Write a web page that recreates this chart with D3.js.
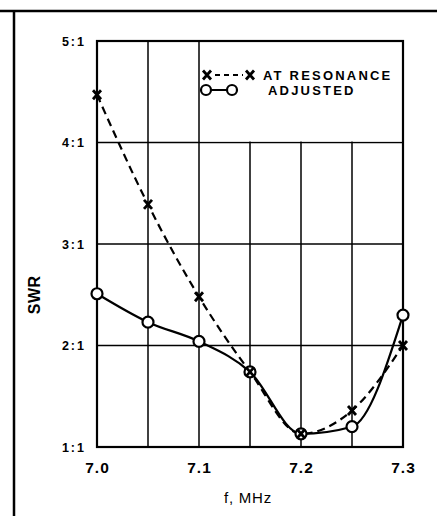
<!DOCTYPE html>
<html>
<head>
<meta charset="utf-8">
<script src="https://cdn.jsdelivr.net/npm/d3@7"></script>
<style>
  body { margin: 0; background: #fff; }
  svg { display: block; font-family: "Liberation Sans", Arial, sans-serif; }
  .tick text { font-weight: bold; fill: #000; }
</style>
</head>
<body>
<div class="chart"></div>
<script>
// data
const freq = [7.0, 7.05, 7.1, 7.15, 7.2, 7.25, 7.3];
const resonance = [4.47, 3.39, 2.48, 1.74, 1.13, 1.36, 2.0];
const adjusted = [2.51, 2.23, 2.04, 1.74, 1.13, 1.2, 2.3];
const yTicks = [1, 2, 3, 4, 5];
const yTickLabels = ["1:1", "2:1", "3:1", "4:1", "5:1"];
const xTicks = [7.0, 7.1, 7.2, 7.3];
const xGrid = [7.05, 7.1, 7.15, 7.2, 7.25];
const legendNames = ["AT RESONANCE", "ADJUSTED"];

const svgWidth = 437, svgHeight = 516;
const margin = { top: 41, right: 34, bottom: 69, left: 97 };
const width = svgWidth - margin.left - margin.right;
const height = svgHeight - margin.top - margin.bottom;

const svg = d3.select(".chart").append("svg")
  .attr("width", svgWidth)
  .attr("height", svgHeight);

// page frame (top rule and left rule)
svg.append("line").attr("x1", 0).attr("x2", svgWidth).attr("y1", 11).attr("y2", 11)
  .attr("stroke", "#000").attr("stroke-width", 2.5);
svg.append("line").attr("x1", 14).attr("x2", 14).attr("y1", 11).attr("y2", svgHeight)
  .attr("stroke", "#000").attr("stroke-width", 2.5);

const g = svg.append("g").attr("transform", `translate(${margin.left},${margin.top})`);

const x = d3.scaleLinear().domain([7.0, 7.3]).range([0, width]);
const y = d3.scaleLinear().domain([1, 5]).range([height, 0]);

// grid
g.append("g").selectAll("line").data(xGrid).join("line")
  .attr("x1", d => x(d)).attr("x2", d => x(d))
  .attr("y1", 0).attr("y2", height)
  .attr("stroke", "#000").attr("stroke-width", 1.5);
g.append("g").selectAll("line").data([2, 3, 4]).join("line")
  .attr("x1", 0).attr("x2", width)
  .attr("y1", d => y(d)).attr("y2", d => y(d))
  .attr("stroke", "#000").attr("stroke-width", 1.6);

// legend cell blanks out the grid
g.append("rect")
  .attr("x", x(7.1) + 1).attr("y", y(5) + 1)
  .attr("width", x(7.3) - x(7.1) - 2).attr("height", y(4) - y(5) - 2)
  .attr("fill", "#fff");

g.append("rect").attr("width", width).attr("height", height)
  .attr("fill", "none").attr("stroke", "#000").attr("stroke-width", 2.2);

// axes (labels only)
const yAxis = g.append("g")
  .call(d3.axisLeft(y).tickValues(yTicks).tickSize(0).tickPadding(11)
    .tickFormat((d, i) => yTickLabels[i]));
yAxis.select(".domain").remove();
yAxis.selectAll("text").attr("font-size", 12.5).attr("letter-spacing", 2);

const xAxis = g.append("g").attr("transform", `translate(0,${height})`)
  .call(d3.axisBottom(x).tickValues(xTicks).tickSize(0).tickPadding(15)
    .tickFormat(d3.format(".1f")));
xAxis.select(".domain").remove();
xAxis.selectAll("text").attr("font-size", 15.5).attr("letter-spacing", 1);

g.append("text")
  .attr("transform", `translate(${-57},${y(2.5)}) rotate(-90)`)
  .attr("text-anchor", "middle")
  .attr("font-size", 16).attr("font-weight", "bold").attr("letter-spacing", 0.5)
  .text("SWR");

g.append("text")
  .attr("x", x(7.15) - 2).attr("y", height + 56)
  .attr("text-anchor", "middle")
  .attr("font-size", 15).attr("letter-spacing", 0.8)
  .text("f, MHz");

// lines
const lineGen = d3.line()
  .x(d => x(d[0])).y(d => y(d[1]))
  .curve(d3.curveMonotoneX);

const resPts = freq.map((f, i) => [f, resonance[i]]);
const adjPts = freq.map((f, i) => [f, adjusted[i]]);

g.append("path").datum(resPts).attr("d", lineGen)
  .attr("fill", "none").attr("stroke", "#000").attr("stroke-width", 2.2)
  .attr("stroke-dasharray", "8,5");
g.append("path").datum(adjPts).attr("d", lineGen)
  .attr("fill", "none").attr("stroke", "#000").attr("stroke-width", 2.2);

// markers
function xMark(sel) {
  sel.attr("d", "M-4,-4.5L4,4.5M-4,4.5L4,-4.5")
    .attr("stroke", "#000").attr("stroke-width", 2.8).attr("fill", "none");
}
g.selectAll(".adj").data(adjPts).join("circle")
  .attr("class", "adj")
  .attr("cx", d => x(d[0])).attr("cy", d => y(d[1])).attr("r", 5.5)
  .attr("fill", "#fff").attr("stroke", "#000").attr("stroke-width", 2.2);
g.selectAll(".res").data(resPts).join("path")
  .attr("class", "res")
  .attr("transform", d => `translate(${x(d[0])},${y(d[1])})`)
  .call(xMark);

// legend
const lg = g.append("g").attr("transform", `translate(${x(7.1)},0)`);
lg.append("path").attr("transform", "translate(8,34)").call(xMark);
lg.append("path").attr("transform", "translate(51,34)").call(xMark);
lg.append("line").attr("x1", 16).attr("x2", 44).attr("y1", 34).attr("y2", 34)
  .attr("stroke", "#000").attr("stroke-width", 2).attr("stroke-dasharray", "5,4");
lg.append("line").attr("x1", 11).attr("x2", 28).attr("y1", 49).attr("y2", 49)
  .attr("stroke", "#000").attr("stroke-width", 2);
lg.append("circle").attr("cx", 7).attr("cy", 49).attr("r", 5)
  .attr("fill", "#fff").attr("stroke", "#000").attr("stroke-width", 2.2);
lg.append("circle").attr("cx", 33).attr("cy", 49).attr("r", 5)
  .attr("fill", "#fff").attr("stroke", "#000").attr("stroke-width", 2.2);
lg.selectAll(".lt").data(legendNames).join("text")
  .attr("class", "lt")
  .attr("x", (d, i) => i === 0 ? 64 : 69)
  .attr("y", (d, i) => 39 + i * 15)
  .attr("font-size", 13).attr("font-weight", "bold").attr("letter-spacing", 2.2)
  .text(d => d);
</script>
</body>
</html>
